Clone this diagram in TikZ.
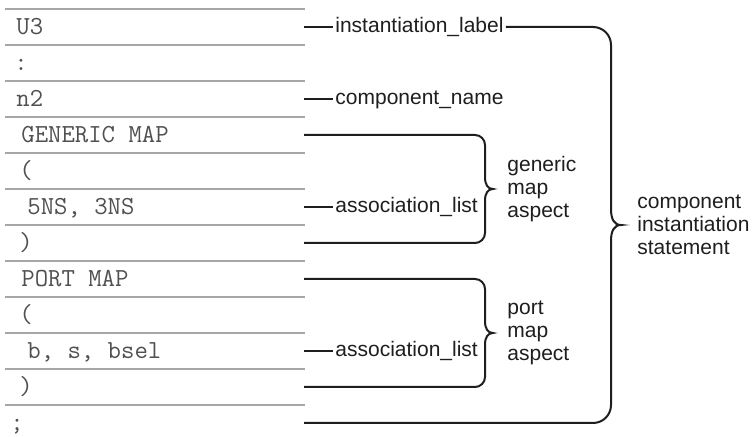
\documentclass[tikz,border=0pt]{standalone}
\usepackage{fontspec}
\setmainfont{Liberation Sans}
\begin{document}
\begin{tikzpicture}[x=0.5pt, y=-0.5pt]
    \definecolor{lineColour}{HTML}{A6A6A6}
    \definecolor{codeColour}{HTML}{505050}
    \definecolor{inkColour}{HTML}{1E1E1E}

    \tikzset{
        rowline/.style={lineColour, line width=0.6pt},
        code/.style={anchor=base west, inner sep=0pt, text=codeColour,
            font=\ttfamily\fontsize{13}{15}\selectfont},
        conn/.style={inkColour, line width=1pt},
        lbl/.style={anchor=west, inner xsep=1pt, inner ysep=0pt, text=inkColour,
            text height=7pt, text depth=1.5pt,
            font=\fontsize{10.5}{11.5}\selectfont},
        aspect/.style={anchor=west, inner sep=0pt, align=left, text=inkColour,
            font=\fontsize{10.5}{11.5}\selectfont}
    }

    \useasboundingbox (0,0) rectangle (754,437);

    % Row separators
    \foreach \k in {0,...,11}
        \draw[rowline] (5,{9+36*\k}) -- (305,{9+36*\k});

    % Code rows and their end points
    \foreach \x/\t [count=\i] in {16/U3, 14/:, 16/n2, 21/GENERIC MAP, 19/(,
            27/{5NS, 3NS}, 19/), 21/PORT MAP, 19/(, 27/{b, s, bsel}, 19/), 10/{;}} {
        \node[code] (r\i) at (\x,{35+36*(\i-1)}) {\t};
        \coordinate (e\i) at (304,{27+36*(\i-1)});
    }

    % Labels
    \node[lbl] (instLabel) at (333,27) {instantiation\_label};
    \node[lbl] (compName) at (333,99) {component\_name};
    \node[lbl] (genList) at (333,207) {association\_list};
    \node[lbl] (portList) at (333,351) {association\_list};

    \draw[conn] (e1) -- (instLabel);
    \draw[conn] (e3) -- (compName);
    \draw[conn] (e6) -- (genList);
    \draw[conn] (e10) -- (portList);

    % Generic map brace
    \draw[conn] (e4) -- (475,135) .. controls (480.5,135) and (485,139.5) .. (485,145)
        -- (485,177) .. controls (485,185) and (488,189) .. (493,189)
        .. controls (488,189) and (485,193) .. (485,201)
        -- (485,233) .. controls (485,238.5) and (480.5,243) .. (475,243) -- (e7);
    \node[aspect] (genAspect) at (507,189) {generic\\map\\aspect};

    % Port map brace
    \draw[conn] (e8) -- (475,279) .. controls (480.5,279) and (485,283.5) .. (485,289)
        -- (485,321) .. controls (485,329) and (488,333) .. (493,333)
        .. controls (488,333) and (485,337) .. (485,345)
        -- (485,377) .. controls (485,382.5) and (480.5,387) .. (475,387) -- (e11);
    \node[aspect] (portAspect) at (507,333) {port\\map\\aspect};

    % Whole statement brace
    \draw[conn] (instLabel) -- (593,27) .. controls (603,27) and (611,35) .. (611,45)
        -- (611,209) .. controls (611,219) and (614,225) .. (621,225)
        .. controls (614,225) and (611,231) .. (611,241)
        -- (611,405) .. controls (611,415) and (603,423) .. (593,423) -- (e12);
    \node[aspect] (stmt) at (637,225) {component\\instantiation\\statement};

\end{tikzpicture}
\end{document}
